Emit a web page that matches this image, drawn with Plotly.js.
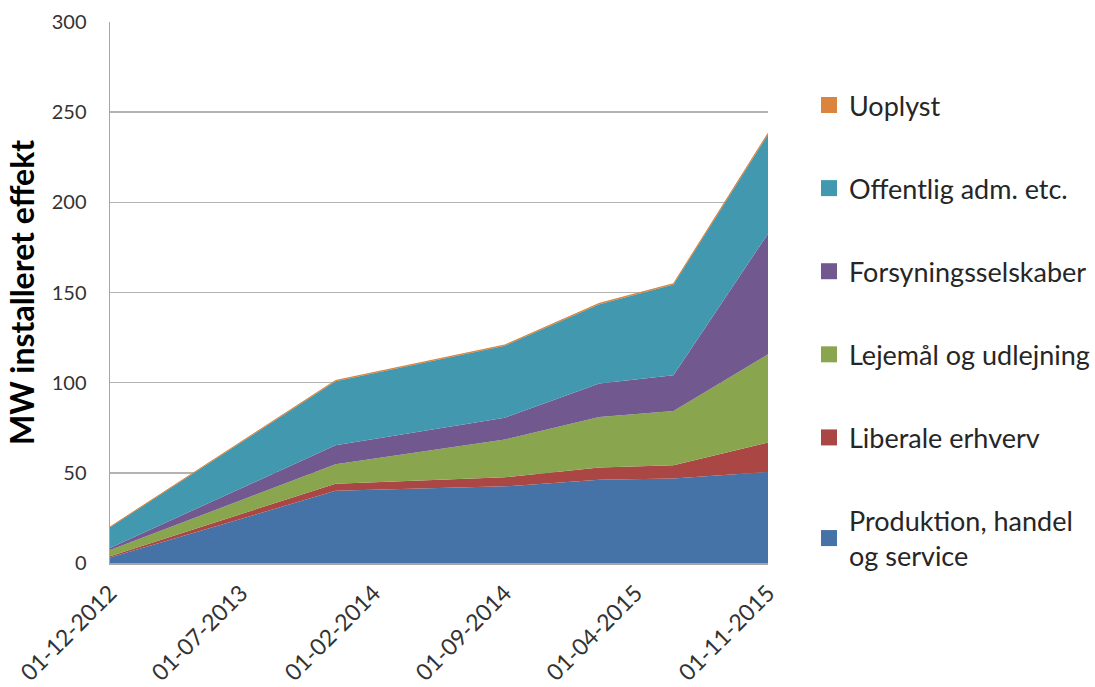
<!DOCTYPE html>
<html>
<head>
<meta charset="utf-8">
<script src="https://cdn.plot.ly/plotly-3.0.1.min.js"></script>
<style>
  html, body { margin: 0; padding: 0; background: #fff; }
  #chart { width: 1095px; height: 687px; }
</style>
</head>
<body>
<div id="chart"></div>
<script>
// Dates of the observations
const dates = ['2012-12-01', '2013-12-01', '2014-09-01', '2015-02-01', '2015-06-01', '2015-11-01'];

// Series values (MW installeret effekt), stacked bottom -> top
const produktion = [3.0, 40.0, 42.5, 46.2, 46.8, 50.5];
const liberale   = [0.8, 4.0, 5.0, 6.7, 7.4, 16.3];
const lejemaal   = [3.4, 10.7, 21.0, 28.1, 30.1, 48.9];
const forsyning  = [1.1, 10.6, 12.1, 18.5, 19.8, 66.9];
const offentlig  = [11.5, 35.5, 39.9, 44.0, 50.3, 55.1];
const uoplyst    = [0.2, 0.4, 0.4, 0.5, 0.5, 0.6];

// Names
const seriesNames = ['Produktion, handel<br>og service', 'Liberale erhverv', 'Lejemål og udlejning',
                     'Forsyningsselskaber', 'Offentlig adm. etc.', 'Uoplyst'];
const seriesColors = ['#4572A7', '#AA4643', '#89A54E', '#71588F', '#4198AF', '#DB843D'];
const seriesValues = [produktion, liberale, lejemaal, forsyning, offentlig, uoplyst];

// Axis ticks
const xTickVals = ['2012-12-01', '2013-07-01', '2014-02-01', '2014-09-01', '2015-04-01', '2015-11-01'];
const xTickText = ['01-12-2012', '01-07-2013', '01-02-2014', '01-09-2014', '01-04-2015', '01-11-2015'];
const yTickVals = [0, 50, 100, 150, 200, 250, 300];

const FONT = 'Lato, "Open Sans", sans-serif';

const traces = [];
seriesValues.forEach((vals, i) => {
  traces.push({
    type: 'scatter',
    mode: 'lines',
    x: dates,
    y: vals,
    stackgroup: 'one',
    name: seriesNames[i],
    fillcolor: seriesColors[i],
    line: { color: seriesColors[i], width: i === 5 ? 1 : 0 },
    showlegend: false,
    hoverinfo: 'skip'
  });
});
// legend entries (top to bottom as in the reference)
for (let i = seriesNames.length - 1; i >= 0; i--) {
  traces.push({
    type: 'scatter',
    mode: 'markers',
    x: [null],
    y: [null],
    name: seriesNames[i],
    legendgroup: 'g' + i,
    marker: { symbol: 'square', size: 17, color: seriesColors[i] },
    showlegend: true,
    hoverinfo: 'skip'
  });
}

const layout = {
  width: 1095,
  height: 687,
  margin: { l: 110, r: 327, t: 22, b: 124, autoexpand: false },
  paper_bgcolor: '#ffffff',
  plot_bgcolor: '#ffffff',
  font: { family: FONT, color: '#333333', size: 20 },
  showlegend: true,
  legend: {
    x: 1.0623, xanchor: 'left',
    y: 0.891, yanchor: 'top',
    traceorder: 'grouped',
    tracegroupgap: 45,
    font: { family: FONT, size: 27, color: '#262626' },
    itemwidth: 30,
    bgcolor: 'rgba(0,0,0,0)'
  },
  xaxis: {
    type: 'date',
    range: ['2012-12-01', '2015-11-01'],
    tickmode: 'array',
    tickvals: xTickVals,
    ticktext: xTickText,
    tickangle: -45,
    tickfont: { family: FONT, size: 23, color: '#333333' },
    showgrid: false,
    zeroline: false,
    showline: true,
    linecolor: '#a6a6a6',
    linewidth: 1.5,
    ticks: '',
    ticklabelstandoff: 6,
    automargin: false,
    fixedrange: true
  },
  yaxis: {
    range: [0, 300],
    tickmode: 'array',
    tickvals: yTickVals,
    tickfont: { family: FONT, size: 20, color: '#333333' },
    showgrid: true,
    gridcolor: '#b3b3b3',
    gridwidth: 1.5,
    zeroline: false,
    showline: true,
    linecolor: '#a6a6a6',
    linewidth: 1.5,
    ticks: '',
    ticklabelstandoff: 18,
    automargin: false,
    title: { text: '<b>MW installeret effekt</b>', font: { family: FONT, size: 32, color: '#000000' }, standoff: 7 },
    fixedrange: true
  }
};

Plotly.newPlot('chart', traces, layout, { displayModeBar: false, staticPlot: true });
</script>
</body>
</html>
